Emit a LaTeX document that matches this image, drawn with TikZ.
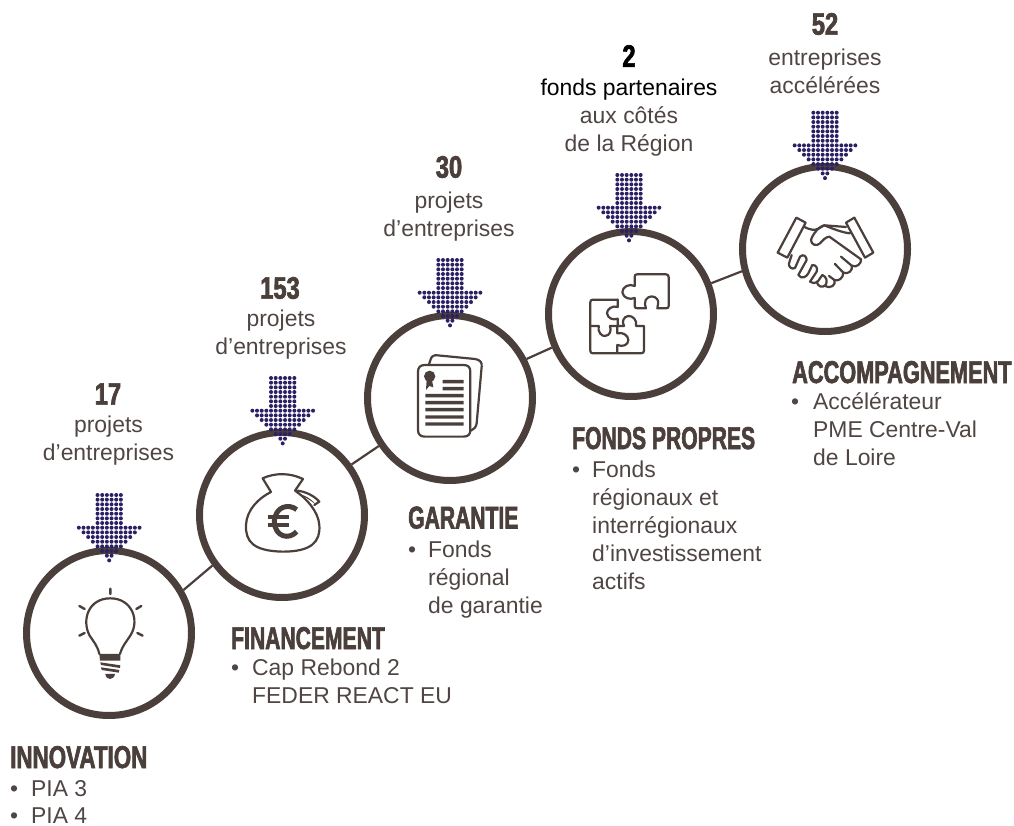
\documentclass[tikz,border=0pt]{standalone}
\usepackage{fontspec}
\setmainfont{Liberation Sans}
\newfontfamily\headfont[FakeStretch=0.67,FakeBold=2]{Liberation Sans Bold}
\definecolor{ringc}{HTML}{4A3F3B}
\definecolor{dotc}{HTML}{2A2063}
\definecolor{txtc}{HTML}{4F4643}
\tikzset{
 ring/.style={circle,draw=ringc,line width=7pt,fill=white,minimum size=165pt,inner sep=0pt},
 link/.style={draw=ringc,line width=2.2pt},
 icon/.style={draw=ringc,line width=2.2pt,line cap=round,line join=round,fill=none},
 label/.style={align=center,font=\fontsize{22.9pt}{28pt}\selectfont,text=txtc,anchor=north,inner sep=0pt},
 numb/.style={font=\headfont\fontsize{31pt}{32pt}\selectfont,text=ringc,inner sep=0pt,xscale=1.14,transform shape},
 headg/.style={font=\headfont\fontsize{31.5pt}{32pt}\selectfont,text=ringc,anchor=base west,inner sep=0pt},
 bul/.style={align=left,font=\fontsize{22.9pt}{27.6pt}\selectfont,text=txtc,anchor=base west,inner sep=0pt},
}
\newcommand{\dotarrow}[2]{%
 \begin{scope}[shift={(#1,#2)}]
 \foreach \r in {0,...,6}{\foreach \c in {-2.5,-1.5,...,2.5}{\fill[dotc] (\c*4.67,\r*4.67) circle (2);}}
 \foreach \r/\h in {7/6.5,8/5.5,9/4.5,10/3.5,11/2.5,12/1.5,13/0.5}{\foreach \c in {-\h,...,\h}{\fill[dotc] (\c*4.67,\r*4.67) circle (2);}}
 \fill[dotc] (0,14*4.67) circle (2);
 \end{scope}}
\begin{document}
\begin{tikzpicture}[x=1pt,y=-1pt]
\useasboundingbox (0,0) rectangle (1014,826);
\node[ring] (c1) at (109,633) {};
\node[ring] (c2) at (282,515) {};
\node[ring] (c3) at (450,398) {};
\node[ring] (c4) at (631,314) {};
\node[ring] (c5) at (825,249) {};
\draw[link] (c1.30) -- (c2.216);
\draw[link] (c2.36) -- (c3.214);
\draw[link] (c3.27) -- (c4.203);
\draw[link] (c4.21) -- (c5.195);
\dotarrow{109.2}{495}
\dotarrow{282.7}{378}
\dotarrow{450}{260}
\dotarrow{629}{175}
\dotarrow{825}{112.7}
% bulb
\begin{scope}[shift={(0,480)},x=0.3333pt,y=-0.3333pt]
 \draw[icon,line width=2.4pt] (331,326)--(331,342) (238,378)--(254,387) (424,378)--(409,387) (238,467)--(254,459) (428,467)--(412,459);
 \draw[icon] (298,522) .. controls (292,495) and (280,485) .. (268,465) .. controls (245,420) and (265,355) .. (331,355) .. controls (395,355) and (420,420) .. (392,465) .. controls (380,485) and (368,495) .. (360,522);
 \fill[ringc] (298,522)--(361,522)--(361,542)--(300,542)--cycle;
 \fill[ringc] (301,547)--(361,556)--(360,564)--(303,555)--cycle;
 \fill[ringc] (303,562)--(358,570)--(356,578)--(305,570)--cycle;
 \fill[ringc] (316,582)--(345,582) .. controls (344,592) and (336,597) .. (330,597) .. controls (324,597) and (317,592) .. (316,582)--cycle;
\end{scope}
% money bag
\begin{scope}[shift={(190,370)},x=0.3333pt,y=-0.3333pt]
 \draw[icon] (243,366) .. controls (205,385) and (170,420) .. (168,465) .. controls (166,515) and (190,543) .. (278,545) .. controls (365,545) and (392,515) .. (388,465) .. controls (385,425) and (350,385) .. (315,362) -- (339,327) .. controls (300,308) and (255,308) .. (218,325) -- cycle;
 \draw[icon] (322,362) .. controls (350,365) and (375,380) .. (388,395) -- (373,405);
 \fill[ringc,draw=none] (320,370) .. controls (345,375) and (362,385) .. (377,403) .. controls (360,390) and (345,380) .. (320,370)--cycle;
 \draw[ringc,line width=5pt] (320,419) .. controls (298,400) and (255,408) .. (253,455) .. controls (255,502) and (298,510) .. (320,485);
 \draw[ringc,line width=3.4pt] (234,441)--(298,441) (234,465)--(298,465);
\end{scope}
% documents
\begin{scope}[shift={(360,250)},x=0.3333pt,y=-0.3333pt]
 \draw[icon] (207,343) -- (212,328) .. controls (215,318) and (222,315) .. (232,316) -- (345,327) .. controls (360,329) and (367,338) .. (365,350) -- (350,520) .. controls (348,532) and (342,538) .. (333,542);
 \draw[icon,fill=white] (195,345) -- (310,345) .. controls (325,345) and (331,352) .. (331,365) -- (331,540) .. controls (331,553) and (325,560) .. (310,560) -- (195,560) .. controls (181,560) and (174,553) .. (174,540) -- (174,365) .. controls (174,352) and (181,345) .. (195,345) -- cycle;
 \fill[ringc] (209,379) circle (17);
 \fill[ringc] (200,390)--(198,420)--(208,408)--(220,412)--(216,390)--cycle;
 \fill[ringc] (248,390) rectangle (311,400) (248,411) rectangle (311,421);
 \fill[ringc] (196,432) rectangle (311,442) (196,453) rectangle (311,463) (196,474) rectangle (311,484) (196,496) rectangle (311,506) (196,517) rectangle (311,527);
\end{scope}
% puzzle
\begin{scope}[shift={(540,170)},x=0.3333pt,y=-0.3333pt]
 \draw[icon] (284,348) -- (284,320) .. controls (284,314) and (287,313) .. (292,313) -- (378,313) .. controls (384,313) and (386,316) .. (386,322) -- (386,408) .. controls (386,413) and (384,415) .. (378,415) -- (352,415) .. controls (352,405) and (358,398) .. (352,388) .. controls (344,376) and (325,376) .. (317,390) .. controls (312,398) and (316,408) .. (318,415) -- (292,415) .. controls (287,415) and (284,413) .. (284,408) -- (284,384) .. controls (270,390) and (250,385) .. (247,367) .. controls (247,350) and (268,340) .. (284,348) -- cycle;
 \draw[icon] (233,389) -- (158,389) .. controls (153,389) and (151,392) .. (151,397) -- (151,542) .. controls (151,547) and (153,550) .. (158,550) -- (303,550) .. controls (309,550) and (312,547) .. (312,542) -- (312,468) -- (288,468) .. controls (292,450) and (278,437) .. (265,438) .. controls (250,440) and (245,455) .. (252,468) -- (232,468) -- (232,490) .. controls (250,485) and (265,498) .. (265,510) .. controls (265,525) and (248,532) .. (232,525) -- (232,550);
 \draw[icon] (233,389) -- (233,411) .. controls (218,405) and (200,418) .. (201,430) .. controls (203,445) and (220,452) .. (233,446) -- (233,468);
 \draw[icon] (151,468) -- (176,468) .. controls (172,485) and (185,500) .. (195,498) .. controls (210,497) and (215,482) .. (210,468) -- (232,468);
\end{scope}
% handshake
\begin{scope}[shift={(735,100)},x=0.3333pt,y=-0.3333pt]
 \draw[icon] (184,353) -- (212,368) -- (157,473) -- (128,458) -- cycle;
 \draw[icon] (358,353) -- (333,368) -- (390,473) -- (415,458) -- cycle;
 \draw[icon] (206,380) .. controls (225,390) and (240,392) .. (250,386) -- (268,376) -- (333,381);
 \draw[icon] (345,400) .. controls (322,398) and (290,385) .. (268,376) .. controls (250,380) and (232,405) .. (228,420) .. controls (228,435) and (245,440) .. (255,430) .. controls (265,420) and (270,412) .. (283,410) -- (378,478);
 \draw[icon] (378,478) .. controls (380,490) and (365,505) .. (350,497) -- (318,470);
 \draw[icon] (350,497) .. controls (355,510) and (340,525) .. (325,518) -- (300,492);
 \draw[icon] (325,518) .. controls (325,535) and (310,545) .. (298,540) -- (282,528);
 \draw[icon] (298,540) .. controls (305,555) and (285,568) .. (270,558);
 \draw[icon] (170,465) -- (162,490) .. controls (160,500) and (170,510) .. (180,504) -- (195,470) .. controls (205,460) and (215,470) .. (215,480) -- (190,525) .. controls (200,540) and (215,530) .. (220,520) -- (232,495) .. controls (245,495) and (248,505) .. (245,515) -- (225,545) .. controls (240,555) and (250,545) .. (255,535) -- (262,525) .. controls (275,530) and (278,545) .. (272,555) .. controls (262,565) and (248,560) .. (245,545);
\end{scope}
% numbers and labels
\node[numb] (n1) at (108,394) {17};
\node[label] (l1) at (108.5,416) {projets\\d’entreprises};
\node[numb] (n2) at (280,288) {153};
\node[label] (l2) at (281,310) {projets\\d’entreprises};
\node[numb] (n3) at (449,167) {30};
\node[label] (l3) at (449,192) {projets\\d’entreprises};
\node[numb,text=black] (n4) at (629,56) {2};
\node[label,text=black] (l4a) at (629,78.5) {fonds partenaires};
\node[label] (l4) at (629,106.5) {aux côtés\\de la Région};
\node[numb] (n5) at (825,24) {52};
\node[label] (l5) at (825,48.5) {entreprises\\accélérées};
% headings
\node[headg,xscale=1.06,transform shape] (h1) at (10,768) {INNOVATION};
\node[bul] (b1) at (10,796) {•};
\node[bul] (b1t) at (31,796) {PIA 3};
\node[bul] (b1b) at (10,823) {•};
\node[bul] (b1bt) at (31,823) {PIA 4};
\node[headg] (h2) at (231,649) {FINANCEMENT};
\node[bul] (b2) at (231,675) {•};
\node[bul] (b2t) at (252,675) {Cap Rebond 2};
\node[bul] (b2u) at (252,703) {FEDER REACT EU};
\node[headg] (h3) at (408,528.5) {GARANTIE};
\node[bul] (b3) at (408,557) {•};
\node[bul] (b3t) at (428,557) {Fonds};
\node[bul] (b3u) at (428,585) {régional};
\node[bul] (b3v) at (428,613) {de garantie};
\node[headg] (h4) at (572,449) {FONDS PROPRES};
\node[bul] (b4) at (572,477) {•};
\node[bul] (b4t) at (592,477) {Fonds};
\node[bul] (b4u) at (592,505) {régionaux et};
\node[bul] (b4v) at (592,533) {interrégionaux};
\node[bul] (b4w) at (592,561) {d’investissement};
\node[bul] (b4x) at (592,589) {actifs};
\node[headg,xscale=1.03,transform shape] (h5) at (792,383) {ACCOMPAGNEMENT};
\node[bul] (b5) at (791,409) {•};
\node[bul] (b5t) at (813,409) {Accélérateur};
\node[bul] (b5u) at (813,437) {PME Centre-Val};
\node[bul] (b5v) at (813,465) {de Loire};
\end{tikzpicture}
\end{document}
